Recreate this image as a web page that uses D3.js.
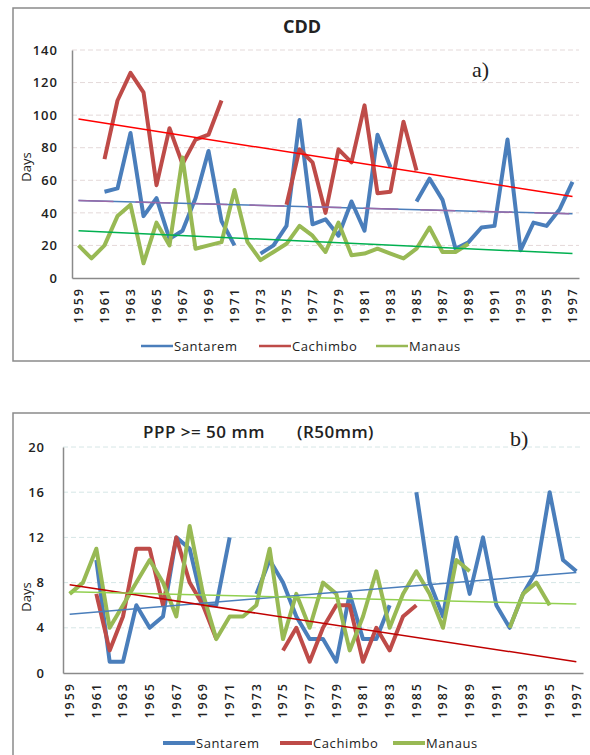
<!DOCTYPE html>
<html>
<head>
<meta charset="utf-8">
<script src="https://cdn.jsdelivr.net/npm/d3@7"></script>
<style>
  body { margin: 0; background: #fff; }
  svg { display: block; }
  text { font-family: "Open Sans", "Liberation Sans", sans-serif; fill: #222; }
</style>
</head>
<body>
<svg id="chart" width="590" height="755"></svg>
<script>
// years on the category axis
const years = d3.range(1959, 1998);
const yearLabels = years.filter((d, i) => i % 2 === 0);
const stations = ["Santarem", "Cachimbo", "Manaus"];
const colors = ["#4a7ebb", "#be4b48", "#98b954"];

// a) CDD
const cddSantarem = [null, null, 53, 55, 89, 38, 49, 24, 29, 49, 78, 35, 20, null, 15, 20, 32, 97, 33, 36,
  26, 47, 29, 88, 68, null, 47, 61, 48, 18, 22, 31, 32, 85, 17, 34, 32, 42, 59];
const cddCachimbo = [null, null, 73, 109, 126, 114, 57, 92, 70, 85, 88, 109, null, null, null, null, 45, 79, 71, 40,
  79, 71, 106, 52, 53, 96, 66, null, null, null, null, null, null, null, null, null, null, null, null];
const cddManaus = [20, 12, 20, 38, 45, 9, 34, 20, 74, 18, 20, 22, 54, 22, 11, 16, 21, 32, 26, 16,
  34, 14, 15, 18, 15, 12, 18, 31, 16, 16, 21, null, null, null, null, null, null, null, null];
const cddTrend = [[47.6, 39.4], [97.6, 50], [29, 15]]; // 1959 -> 1997
const cddTicks = [0, 20, 40, 60, 80, 100, 120, 140];

// b) R50mm
const r50Santarem = [null, null, 10, 1, 1, 6, 4, 5, 12, 11, 6, 6, 12, null, 7, 10, 8, 5, 3, 3,
  1, 7, 3, 3, 6, null, 16, 8, 5, 12, 7, 12, 6, 4, 7, 9, 16, 10, 9];
const r50Cachimbo = [null, null, 7, 2, 5, 11, 11, 6, 12, 8, 6, 3, null, null, null, null, 2, 4, 1, 4,
  6, 6, 1, 4, 2, 5, 6, null, null, null, null, null, null, null, null, null, null, null, null];
const r50Manaus = [7, 8, 11, 4, 6, 8, 10, 8, 5, 13, 7, 3, 5, 5, 6, 11, 3, 7, 4, 8,
  7, 2, 5, 9, 4, 7, 9, 7, 4, 10, 9, null, null, 4, 7, 8, 6, null, null];
const r50Trend = [[5.2, 8.9], [7.8, 1.0], [7.2, 6.1]];
const r50Ticks = [0, 4, 8, 12, 16, 20];

const svg = d3.select("#chart");

function panel(opt) {
  const g = svg.append("g");

  g.append("rect")
    .attr("x", 13).attr("y", opt.boxY)
    .attr("width", 600).attr("height", opt.boxH)
    .attr("fill", "none").attr("stroke", "#8a8a8a").attr("stroke-width", 1.5);

  const x = d3.scaleBand().domain(years).range([opt.x0, opt.x1]);
  const y = d3.scaleLinear().domain([0, opt.ticks[opt.ticks.length - 1]]).range([opt.y0, opt.y1]);
  const cx = d => x(d) + x.bandwidth() / 2;

  // gridlines
  g.append("g").selectAll("line")
    .data(opt.ticks.slice(1))
    .join("line")
    .attr("x1", opt.x0).attr("x2", opt.x1)
    .attr("y1", d => y(d)).attr("y2", d => y(d))
    .attr("stroke", opt.gridColor).attr("stroke-width", 1)
    .attr("stroke-dasharray", "5,3");

  // y axis
  const ya = g.append("g")
    .attr("transform", `translate(${opt.x0},0)`)
    .call(d3.axisLeft(y).tickValues(opt.ticks).tickSize(0).tickPadding(opt.yPad));
  ya.select(".domain").attr("stroke", "#8a8a8a").attr("stroke-width", 1.5);
  ya.selectAll("text")
    .style("font-size", "13px").style("font-weight", "600")
    .style("letter-spacing", "1px").attr("fill", "#222");

  // x axis
  const xa = g.append("g")
    .attr("transform", `translate(0,${opt.y0})`)
    .call(d3.axisBottom(x).tickValues(yearLabels).tickSize(0));
  xa.select(".domain").attr("stroke", "#8a8a8a").attr("stroke-width", 1.5);
  xa.selectAll("text")
    .attr("transform", "rotate(-90)")
    .attr("x", -9).attr("y", 0).attr("dy", "0.35em")
    .style("text-anchor", "end")
    .style("font-size", "12.5px").style("font-weight", "600")
    .style("letter-spacing", "2px").attr("fill", "#222");

  // axis title
  g.append("text")
    .attr("transform", `translate(31,${opt.daysY}) rotate(-90)`)
    .style("text-anchor", "middle").style("font-size", "13px")
    .text("Days");

  // series
  const line = d3.line()
    .defined(d => d.v !== null)
    .x(d => cx(d.year))
    .y(d => y(d.v));

  opt.series.forEach((vals, k) => {
    g.append("path")
      .datum(vals.map((v, i) => ({ year: years[i], v: v })))
      .attr("fill", "none")
      .attr("stroke", colors[k])
      .attr("stroke-width", 4)
      .attr("stroke-linejoin", "round")
      .attr("d", line);
  });

  // linear trend lines
  const first = years[0], last = years[years.length - 1];
  opt.trend.forEach((t, k) => {
    g.append("line")
      .attr("x1", cx(first)).attr("y1", y(t[0]))
      .attr("x2", cx(last)).attr("y2", y(t[1]))
      .attr("stroke", opt.trendColors[k])
      .attr("stroke-width", 1.5);
    if (opt.trendOverlay && opt.trendOverlay[k]) {
      g.append("line")
        .attr("x1", cx(first)).attr("y1", y(t[0]))
        .attr("x2", cx(last)).attr("y2", y(t[1]))
        .attr("stroke", opt.trendOverlay[k])
        .attr("stroke-width", 1.5)
        .attr("stroke-dasharray", "35,22");
    }
  });

  // legend
  const lg = g.append("g");
  opt.legendX.forEach((lx, k) => {
    lg.append("line")
      .attr("x1", lx).attr("x2", lx + opt.legendLen)
      .attr("y1", opt.legendY).attr("y2", opt.legendY)
      .attr("stroke", colors[k]).attr("stroke-width", opt.legendW);
    lg.append("text")
      .attr("x", lx + opt.legendLen + 1).attr("y", opt.legendY)
      .attr("dy", "0.35em")
      .style("font-size", "13px")
      .style("letter-spacing", "0.6px")
      .text(stations[k]);
  });

  return g;
}

const a = panel({
  boxY: 8, boxH: 353,
  x0: 72, x1: 579, y0: 278, y1: 50,
  ticks: cddTicks, yPad: 14, daysY: 167,
  gridColor: "#e4d9d9",
  series: [cddSantarem, cddCachimbo, cddManaus],
  trend: cddTrend,
  trendColors: ["#4a7ebb", "#ff0000", "#00b050"],
  trendOverlay: ["#9a6aa8", null, null],
  legendX: [141, 259, 376], legendLen: 32, legendY: 346, legendW: 2.5
});
a.append("text")
  .attr("x", 302).attr("y", 33)
  .style("text-anchor", "middle").style("font-size", "18px").style("font-weight", "700")
  .text("CDD");
a.append("text")
  .attr("x", 472).attr("y", 77)
  .style("font-family", "'Liberation Serif', serif").style("font-size", "22px")
  .text("a)");

const b = panel({
  boxY: 413, boxH: 400,
  x0: 63, x1: 583, y0: 673, y1: 447,
  ticks: r50Ticks, yPad: 18, daysY: 597,
  gridColor: "#d6e6e6",
  series: [r50Santarem, r50Cachimbo, r50Manaus],
  trend: r50Trend,
  trendColors: ["#4a7ebb", "#c00000", "#92d050"],
  legendX: [163, 280, 393], legendLen: 32, legendY: 743, legendW: 4
});
b.append("text")
  .attr("x", 143).attr("y", 438)
  .style("font-size", "17px").style("font-weight", "600")
  .style("letter-spacing", "0.5px")
  .text("PPP >= 50 mm");
b.append("text")
  .attr("x", 297).attr("y", 438)
  .style("font-size", "17px").style("font-weight", "600")
  .style("letter-spacing", "0.5px")
  .text("(R50mm)");
b.append("text")
  .attr("x", 510).attr("y", 446)
  .style("font-family", "'Liberation Serif', serif").style("font-size", "22px")
  .text("b)");
</script>
</body>
</html>
